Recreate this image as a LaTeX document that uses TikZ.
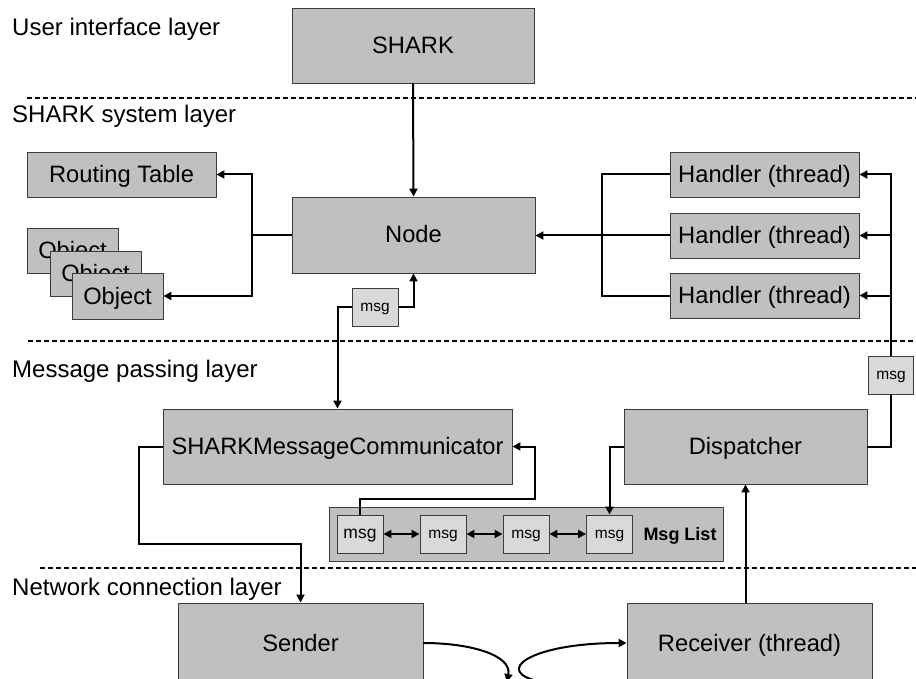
\documentclass[tikz,border=0pt]{standalone}
\usepackage{fontspec}
\setmainfont{Liberation Sans}
\usetikzlibrary{arrows.meta}
\definecolor{boxgray}{RGB}{192,192,192}
\definecolor{msgfill}{RGB}{217,217,217}
\definecolor{edgegray}{RGB}{60,60,60}
\tikzset{
  box/.style={draw=edgegray, fill=boxgray, line width=0.9pt, inner sep=0pt,
    text height=17pt, text depth=1pt,
    font=\fontsize{23.7}{28}\selectfont},
  msgbox/.style={draw=edgegray, fill=msgfill, line width=0.9pt, inner sep=0pt,
    text height=8pt, text depth=0pt,
    minimum width=46pt, minimum height=38pt, font=\fontsize{15.5}{18}\selectfont},
  layerlabel/.style={anchor=base west, inner sep=0pt, font=\fontsize{24}{28}\selectfont},
  conn/.style={line width=2pt, draw=black},
  arr/.style={conn, -{Triangle[length=8pt,width=8pt]}},
  darr/.style={conn, {Triangle[length=8pt,width=8pt]}-{Triangle[length=8pt,width=8pt]}},
  layerline/.style={line width=1.8pt, dash pattern=on 5pt off 3pt}
}
\begin{document}
\begin{tikzpicture}[x=1pt,y=-1pt]
\path[use as bounding box] (0,0) rectangle (916,679);
\clip (0,0) rectangle (916,679);
\fill[white] (0,0) rectangle (916,679);

% layer separators
\draw[layerline] (27,98) -- (916,98);
\draw[layerline] (28,341) -- (916,341);
\draw[layerline] (40,568) -- (916,568);

% layer labels
\node[layerlabel] (l1) at (12,36) {User interface layer};
\node[layerlabel] (l2) at (12,123) {SHARK system layer};
\node[layerlabel] (l3) at (12,377) {Message passing layer};
\node[layerlabel] (l4) at (12,595) {Network connection layer};

% boxes
\node[box, minimum width=242pt, minimum height=75pt] (shark) at (413,45.5) {SHARK};
\node[box, minimum width=243pt, minimum height=76pt] (node) at (413.5,235) {Node};
\node[box, minimum width=189pt, minimum height=45pt] (rt) at (121.5,174.5) {Routing Table};
\node[box, minimum width=91pt, minimum height=45pt] (obj1) at (72.5,250.5) {Object};
\node[box, minimum width=91pt, minimum height=45pt] (obj2) at (95.5,273.5) {Object};
\node[box, minimum width=91pt, minimum height=46pt] (obj3) at (117.5,296) {Object};
\node[box, minimum width=189pt, minimum height=45pt] (h1) at (764.5,174.5) {Handler (thread)};
\node[box, minimum width=189pt, minimum height=45pt] (h2) at (764.5,235.5) {Handler (thread)};
\node[box, minimum width=189pt, minimum height=45pt] (h3) at (764.5,295.5) {Handler (thread)};
\node[msgbox] (msgA) at (375,307) {msg};
\node[msgbox, minimum width=45pt] (msgB) at (891,375) {msg};
\node[box, minimum width=349pt, minimum height=75pt] (smc) at (337.5,446.5) {SHARKMessageCommunicator};
\node[box, minimum width=243pt, minimum height=75pt] (disp) at (745.5,446.5) {Dispatcher};
\node[box, minimum width=394pt, minimum height=54pt] (mlist) at (526,534) {};
\node[msgbox, text height=9pt, font=\fontsize{17.5}{20}\selectfont] (msg1) at (360,534) {msg};
\node[msgbox] (msg2) at (443,534) {msg};
\node[msgbox] (msg3) at (526,534) {msg};
\node[msgbox] (msg4) at (609.5,534) {msg};
\node[inner sep=0pt, text height=13pt, text depth=0pt, font=\fontsize{18}{21}\selectfont\bfseries] (mltext) at (680,534) {Msg List};
\node[box, minimum width=245pt, minimum height=80pt] (sender) at (300.5,643) {Sender};
\node[box, minimum width=245pt, minimum height=80pt] (rec) at (749.5,643) {Receiver (thread)};

% coordinates
\coordinate (jL) at (252,235);
\coordinate (c1) at (139,544);
\coordinate (c2) at (535,499);
\coordinate (jH3) at (602,295.5);
\coordinate (sendEnd) at (507,682);
\coordinate (recStart) at (542,682);

% connectors
\draw[arr] (shark.south) -- (node.north);
\draw[conn] (node.west) -- (jL);
\draw[arr] (jL) |- (rt.east);
\draw[arr] (jL) |- (obj3.east);
\draw[arr] (msgA.east) -| (node.south);
\draw[arr] (msgA.west) -| (smc.north);
\draw[conn] (h1.west) -| (jH3) -- (h3.west);
\draw[arr] (h2.west) -- (h2.west -| node.east);
\draw[conn] (disp.east) -| (msgB.south);
\draw[arr] (msgB.north) |- (h1.east);
\draw[arr] (msgB.north |- h2.east) -- (h2.east);
\draw[arr] (msgB.north |- h3.east) -- (h3.east);
\draw[arr] (smc.west) -| (c1) -| (sender.north);
\draw[arr] (msg1.north) |- (c2) |- (smc.east);
\draw[arr] (disp.west) -| (msg4.north);
\draw[arr] (rec.north -| disp.south) -- (disp.south);
\draw[darr] (msg1.east) -- (msg2.west);
\draw[darr] (msg2.east) -- (msg3.west);
\draw[darr] (msg3.east) -- (msg4.west);
\draw[arr] (sender.east) .. controls (470,643) and (512,655) .. (sendEnd);
\draw[arr] (recStart) .. controls (490,672) and (530,643) .. (rec.west);
\end{tikzpicture}
\end{document}
